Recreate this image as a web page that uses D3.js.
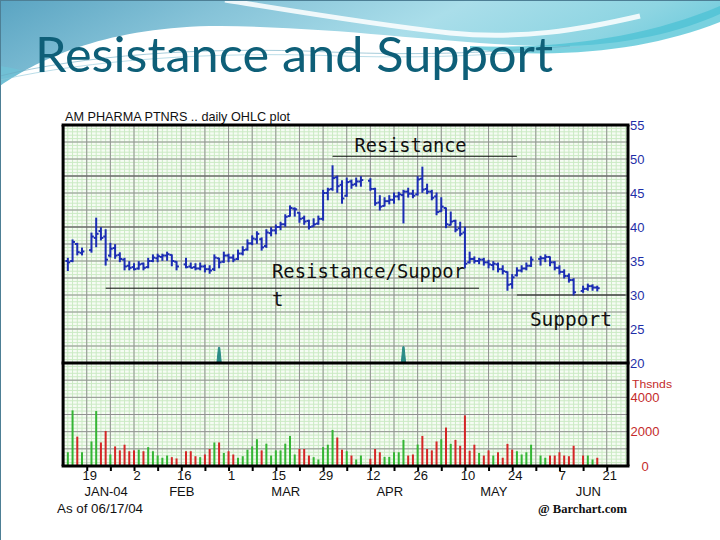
<!DOCTYPE html>
<html><head><meta charset="utf-8">
<script src="https://cdn.jsdelivr.net/npm/d3@7/dist/d3.min.js"></script>
<style>html,body{margin:0;padding:0;background:#fff;overflow:hidden}svg{display:block}</style>
</head><body>
<svg id="chart" width="720" height="540"></svg>
<script>
// ---------------- DATA ----------------
const titleText = "Resistance and Support";
const chartCaption = "AM PHARMA PTNRS .. daily OHLC plot";
const asOfText = "As of 06/17/04";
const sourceText = "@ Barchart.com";

const firstDay = "2004-01-13";
const lastDay = "2004-06-17";
const holidays = ["2004-01-19", "2004-02-16", "2004-04-09", "2004-05-31", "2004-06-11"];

// one value per trading day (weeks separated by line)
const opens = [
  35.0, 35.0, 37.5, 36.2,
  36.6, 38.4, 39.4, 38.6,
  35.8, 36.9, 35.9, 35.2, 34.3,
  34.1, 33.9, 34.6, 34.1, 35.0,
  35.4, 35.6, 35.8, 35.9, 34.9,
  34.5, 34.2, 34.1, 33.9,
  34.2, 33.8, 33.8, 35.4, 34.9,
  35.8, 35.5, 35.3, 36.1, 36.7,
  37.6, 38.2, 38.2, 37.2, 39.1,
  39.5, 40.0, 40.4, 41.6, 42.7,
  42.1, 41.3, 40.9, 40.1, 40.5,
  41.2, 45.0, 45.6, 47.3, 46.2,
  44.6, 46.7, 46.3, 46.7,
  46.8, 45.6, 43.6, 43.1, 43.8,
  44.0, 44.5, 44.7, 45.2, 44.9,
  44.8, 47.1, 45.6, 45.2, 44.5,
  42.3, 42.8, 40.3, 40.9, 39.8,
  39.2, 34.8, 35.3, 35.0, 35.2,
  34.8, 34.4, 34.5, 33.8, 33.4,
  31.6, 32.9, 33.6, 33.9, 34.3,
  35.3, 35.4, 35.6, 34.8,
  34.0, 33.4, 32.8, 32.2,
  30.6, 30.9, 31.3, 31.1
];
const highs = [
  35.4, 38.1, 37.6, 36.9,
  39.1, 41.3, 39.9, 39.6,
  37.6, 37.4, 36.2, 35.4, 34.9,
  34.6, 34.9, 34.7, 35.4, 35.9,
  36.0, 36.0, 36.3, 35.9, 34.9,
  35.4, 34.7, 34.6, 34.7,
  34.4, 34.3, 35.9, 35.4, 36.3,
  36.0, 35.9, 36.6, 37.1, 38.1,
  38.7, 39.3, 38.4, 39.6, 39.9,
  40.3, 40.7, 41.8, 43.1, 42.8,
  42.1, 41.6, 41.0, 41.2, 41.6,
  45.4, 45.7, 49.0, 47.5, 46.8,
  47.2, 46.9, 47.2, 47.4,
  47.1, 45.7, 44.6, 44.3, 44.6,
  45.0, 45.1, 45.4, 45.7, 45.4,
  47.4, 48.8, 46.3, 45.4, 45.0,
  44.3, 42.8, 42.2, 41.0, 40.7,
  40.0, 36.3, 35.6, 35.4, 35.4,
  35.1, 34.9, 34.7, 34.3, 33.4,
  33.0, 34.0, 34.3, 34.7, 35.6,
  35.7, 35.9, 35.6, 34.9,
  34.3, 33.7, 33.1, 32.4,
  31.3, 31.6, 31.5, 31.3
];
const lows = [
  33.6, 34.9, 35.9, 35.9,
  36.3, 37.1, 38.1, 34.4,
  35.6, 35.4, 34.9, 33.7, 33.7,
  33.7, 33.8, 33.7, 34.0, 34.9,
  34.9, 35.1, 35.1, 34.3, 33.7,
  34.0, 34.0, 33.7, 33.7,
  33.4, 33.2, 33.6, 34.0, 34.8,
  34.9, 34.9, 35.2, 35.9, 36.6,
  37.4, 37.6, 36.6, 37.0, 38.7,
  39.0, 39.6, 40.1, 41.6, 41.6,
  40.7, 40.4, 39.7, 40.1, 40.4,
  41.0, 44.0, 45.4, 45.1, 43.5,
  44.5, 45.7, 46.0, 46.0,
  45.4, 43.2, 42.5, 43.1, 43.4,
  43.5, 44.0, 40.6, 44.4, 44.3,
  44.7, 45.1, 44.9, 44.0, 41.8,
  42.3, 39.9, 40.3, 39.3, 38.7,
  34.0, 34.7, 34.7, 34.6, 34.4,
  34.0, 33.7, 33.4, 33.1, 30.7,
  31.0, 32.8, 33.4, 33.7, 34.2,
  34.4, 34.9, 34.3, 33.7,
  33.1, 32.5, 31.9, 30.0,
  30.4, 30.7, 30.7, 30.6
];
const closes = [
  34.8, 37.8, 36.3, 36.4,
  38.6, 39.0, 38.4, 35.2,
  36.8, 35.8, 35.3, 34.2, 34.0,
  33.8, 34.5, 34.0, 35.0, 35.5,
  35.7, 35.8, 36.0, 35.0, 34.2,
  34.1, 34.0, 33.9, 34.2,
  33.8, 33.6, 35.5, 34.8, 35.8,
  35.5, 35.2, 36.1, 36.6, 37.6,
  38.3, 39.0, 37.0, 39.2, 39.5,
  40.0, 40.4, 41.5, 42.8, 42.6,
  41.2, 40.8, 40.0, 40.4, 41.2,
  45.0, 45.5, 47.2, 46.0, 44.2,
  46.6, 46.2, 46.7, 46.9,
  45.6, 43.5, 43.0, 43.8, 44.0,
  44.5, 44.8, 45.2, 44.9, 44.6,
  47.0, 45.5, 45.2, 44.3, 42.2,
  43.0, 40.4, 40.8, 39.6, 39.0,
  34.6, 35.3, 35.0, 35.2, 34.8,
  34.5, 34.6, 33.8, 33.5, 31.5,
  32.6, 33.6, 33.9, 34.3, 35.2,
  35.4, 35.6, 34.8, 34.0,
  33.4, 32.8, 32.2, 30.4,
  30.9, 31.3, 31.1, 31.0
];
// volume in thousands of shares
const volumes = [
  800, 3240, 1710, 800,
  1430, 3200, 1370, 2040,
  670, 1140, 910, 1240, 860,
  910, 950, 860, 1100, 860,
  610, 480, 610, 515, 440,
  860, 860, 570, 515,
  670, 990, 1370, 1370, 760,
  860, 670, 480, 570, 950,
  1140, 1560, 910, 1300, 610,
  910, 910, 1300, 1750, 670,
  990, 990, 610, 515, 380,
  1100, 1240, 2100, 1660, 950,
  860, 610, 380, 610,
  420, 990, 800, 530, 530,
  800, 800, 1520, 610, 670,
  1250, 1750, 990, 910, 1430,
  1560, 2240, 1290, 1520, 1180,
  2950, 890, 1240, 760, 610,
  910, 610, 800, 480, 1290,
  950, 860, 670, 800, 1240,
  610, 480, 610, 610,
  800, 610, 570, 1180,
  610, 610, 380, 480
];
// U = up day (green volume bar), D = down day (red volume bar)
const volumeDirection = [
  "UUDU", "UUDD", "UDDDD", "DUDUU", "UUUDD", "DDDU", "DDUDU", "DDUUU",
  "UUDUU", "UUUUU", "DDDUU", "UUUDD", "UDUU", "DDDUU", "UUUDD", "UDDDD",
  "UDUDD", "DDDUD", "DUDDD", "DUUUU", "UUDD", "DDDD", "DUUD"
].join("");

const priceTicks = [55, 50, 45, 40, 35, 30, 25, 20];
const volumeTicks = [4000, 2000, 0];
const volumeUnit = "Thsnds";

const dayTickDates = ["2004-01-19", "2004-02-02", "2004-02-16", "2004-03-01", "2004-03-15", "2004-03-29",
                      "2004-04-12", "2004-04-26", "2004-05-10", "2004-05-24", "2004-06-07", "2004-06-21"];
const dayTickLabels = ["19", "2", "16", "1", "15", "29", "12", "26", "10", "24", "7", "21"];
const monthLabels = ["JAN-04", "FEB", "MAR", "APR", "MAY", "JUN"];
const monthLabelDates = ["2004-01-23", "2004-02-16", "2004-03-17", "2004-04-16", "2004-05-18", "2004-06-15"];

// hand-drawn level annotations (price level, start date, end date)
const levelNames = ["Resistance", "Resistance/Support", "Support"];
const levelPrices = [50.4, 31.0, 30.0];
const levelStarts = ["2004-03-31", "2004-01-23", "2004-05-25"];
const levelEnds = ["2004-05-25", "2004-05-13", "2004-06-25"];

// small indicator spikes near bottom of price panel
const signalDates = ["2004-02-26", "2004-04-21"];
const signalValues = [22.3, 22.4];

// ---------------- HELPERS ----------------
const baseUTC = Date.UTC(2004, 0, 12); // Monday
function parseUTC(s) { const [y, m, d] = s.split("-").map(Number); return Date.UTC(y, m - 1, d); }
function weekdayIndex(s) {
  const days = Math.round((parseUTC(s) - baseUTC) / 864e5);
  const w = Math.floor(days / 7), r = days - w * 7;
  return w * 5 + Math.min(r, 5);
}
const tradingDays = [];
for (let t = parseUTC(firstDay); t <= parseUTC(lastDay); t += 864e5) {
  const dt = new Date(t), wd = dt.getUTCDay();
  if (wd === 0 || wd === 6) continue;
  const s = dt.toISOString().slice(0, 10);
  if (holidays.includes(s)) continue;
  tradingDays.push(s);
}
const bars = tradingDays.map((d, i) => ({
  idx: weekdayIndex(d), o: opens[i], h: highs[i], l: lows[i], c: closes[i],
  v: volumes[i], up: volumeDirection[i] === "U"
})).filter(b => b.v !== undefined);

// ---------------- DRAW ----------------
const svg = d3.select("#chart");
const L = 63.1, R = 628, T = 125, MID = 363, B = 466;
const x = d3.scaleLinear().domain([0, 119.5]).range([L, R]);
const yP = d3.scaleLinear().domain([20, 55]).range([MID, T]);
const yV = d3.scaleLinear().domain([0, 6000]).range([B, MID]);

// slide header
const defs = svg.append("defs");
const grad = defs.append("linearGradient").attr("id", "hdr").attr("x1", 0).attr("x2", 1).attr("y1", 0).attr("y2", 0.3);
[["0", "#5aa4c2"], ["0.3", "#86c3d8"], ["0.6", "#aadeea"], ["0.85", "#8ed5e2"], ["1", "#6ccadc"]]
  .forEach(([o, c]) => grad.append("stop").attr("offset", o).attr("stop-color", c));
svg.append("rect").attr("width", 720).attr("height", 110).attr("fill", "url(#hdr)");
svg.append("path").attr("d", "M0,66 C30,70 50,80 70,94 L0,100 Z").attr("fill", "#6fc2d6").attr("opacity", 0.8);
svg.append("path")
  .attr("d", "M0,86 C40,58 110,26 220,26 C340,27 440,43 540,46 C620,48 680,32 720,14 L720,540 L0,540 Z")
  .attr("fill", "#fff");
svg.append("path").attr("d", "M470,46 C560,50 650,36 720,6 L720,22 C650,50 560,60 470,49 Z")
  .attr("fill", "#4cc1d4").attr("opacity", 0.75);
svg.append("path").attr("d", "M225,0 C300,12 370,24 450,33 C520,40 580,30 640,16")
  .attr("fill", "none").attr("stroke", "#fff").attr("stroke-width", 5).attr("opacity", 0.85);
svg.append("path").attr("d", "M0,76 C80,56 200,46 330,52 C430,56 500,52 570,46")
  .attr("fill", "none").attr("stroke", "#6aaac2").attr("stroke-width", 1).attr("opacity", 0.6);
svg.append("path").attr("d", "M0,80 C90,60 210,51 340,56 C440,59 510,54 580,47")
  .attr("fill", "none").attr("stroke", "#8cc7d8").attr("stroke-width", 1).attr("opacity", 0.6);
svg.append("path").attr("d", "M0,0.5 H720 M0.5,0 V540").attr("stroke", "#4d7f95").attr("stroke-width", 1);

svg.append("text").attr("x", 35).attr("y", 72).text(titleText)
  .attr("font-family", "Lato, 'Open Sans', sans-serif").attr("font-size", 49).attr("fill", "#0e5f78")
  .attr("textLength", 518).attr("lengthAdjust", "spacingAndGlyphs");

// chart caption
svg.append("text").attr("x", 65).attr("y", 121).text(chartCaption)
  .attr("font-family", "'Liberation Sans', Arial, sans-serif").attr("font-size", 13).attr("fill", "#111")
  .attr("textLength", 225).attr("lengthAdjust", "spacingAndGlyphs");

// plot background + grids
const plot = svg.append("g");
plot.append("rect").attr("x", L).attr("y", T).attr("width", R - L).attr("height", B - T).attr("fill", "#f6fcf4");
const minorColor = "#cbeac4";
d3.range(0, 120).forEach(i => plot.append("line").attr("x1", x(i)).attr("x2", x(i)).attr("y1", T).attr("y2", B)
  .attr("stroke", minorColor).attr("stroke-width", 1));
d3.range(20, 55.01, 0.5).forEach(p => plot.append("line").attr("x1", L).attr("x2", R).attr("y1", yP(p)).attr("y2", yP(p))
  .attr("stroke", minorColor).attr("stroke-width", 1));
d3.range(0, 6000, 200).forEach(v => plot.append("line").attr("x1", L).attr("x2", R).attr("y1", yV(v)).attr("y2", yV(v))
  .attr("stroke", minorColor).attr("stroke-width", 1));
const majorColor = "#929292";
d3.range(5, 120, 5).forEach(i => plot.append("line").attr("x1", x(i)).attr("x2", x(i)).attr("y1", T).attr("y2", B)
  .attr("stroke", majorColor).attr("stroke-width", 1));
d3.range(22.5, 55, 2.5).forEach(p => plot.append("line").attr("x1", L).attr("x2", R).attr("y1", yP(p)).attr("y2", yP(p))
  .attr("stroke", (p === 40 || p === 47.5) ? "#6b6b6b" : majorColor).attr("stroke-width", (p === 40 || p === 47.5) ? 1.6 : 1));
d3.range(1000, 6000, 1000).forEach(v => plot.append("line").attr("x1", L).attr("x2", R).attr("y1", yV(v)).attr("y2", yV(v))
  .attr("stroke", majorColor).attr("stroke-width", 1));

// level annotation lines
levelNames.forEach((n, k) => {
  svg.append("line").attr("x1", x(weekdayIndex(levelStarts[k]))).attr("x2", x(weekdayIndex(levelEnds[k])))
    .attr("y1", yP(levelPrices[k])).attr("y2", yP(levelPrices[k])).attr("stroke", "#111").attr("stroke-width", 1);
});

// signal spikes
const sigColor = "#2a8b86";
signalDates.forEach((d, k) => {
  const cx = x(weekdayIndex(d)), top = yP(signalValues[k]), base = yP(20);
  svg.append("path").attr("d", `M${cx - 2.2},${base} L${cx - 0.6},${top} L${cx + 0.6},${top} L${cx + 2.2},${base} Z`)
    .attr("fill", sigColor).attr("stroke", sigColor).attr("stroke-width", 1);
});

// volume bars
svg.append("g").selectAll("rect").data(bars).join("rect")
  .attr("x", d => x(d.idx) - 1).attr("y", d => yV(d.v)).attr("width", 2).attr("height", d => B - yV(d.v))
  .attr("fill", d => d.up ? "#34b534" : "#d42626");

// OHLC bars
const blue = "#1b2db3";
const ohlc = svg.append("g").attr("stroke", blue).attr("stroke-width", 2).attr("stroke-linecap", "butt");
bars.forEach(d => {
  const cx = x(d.idx);
  ohlc.append("line").attr("x1", cx).attr("x2", cx).attr("y1", yP(d.h) - 0.5).attr("y2", yP(d.l) + 0.5);
  ohlc.append("line").attr("x1", cx - 2.4).attr("x2", cx).attr("y1", yP(d.o)).attr("y2", yP(d.o));
  ohlc.append("line").attr("x1", cx).attr("x2", cx + 2.4).attr("y1", yP(d.c)).attr("y2", yP(d.c));
});

// frame
const frame = svg.append("g").attr("stroke", "#000").attr("stroke-width", 3);
frame.append("line").attr("x1", L - 1.5).attr("x2", R + 1.5).attr("y1", T).attr("y2", T);
frame.append("line").attr("x1", L - 1.5).attr("x2", R + 1.5).attr("y1", MID).attr("y2", MID);
frame.append("line").attr("x1", L - 1.5).attr("x2", R + 1.5).attr("y1", B).attr("y2", B);
frame.append("line").attr("x1", L).attr("x2", L).attr("y1", T).attr("y2", B);
frame.append("line").attr("x1", R).attr("x2", R).attr("y1", T).attr("y2", B);

// annotation texts
const monoFont = "'DejaVu Sans Mono', 'Liberation Mono', monospace";
const ann = svg.append("g").attr("font-family", monoFont).attr("font-size", 19).attr("fill", "#111");
ann.append("text").attr("x", x(weekdayIndex(levelStarts[0])) + 22).attr("y", yP(levelPrices[0]) - 4)
  .text(levelNames[0]).attr("textLength", 112).attr("lengthAdjust", "spacingAndGlyphs");
const rsName = levelNames[1];
ann.append("text").attr("x", 272).attr("y", yP(levelPrices[1]) - 10)
  .text(rsName.slice(0, 17)).attr("textLength", 193).attr("lengthAdjust", "spacingAndGlyphs");
ann.append("text").attr("x", 272).attr("y", yP(levelPrices[1]) + 18).text(rsName.slice(17));
ann.append("text").attr("x", x(weekdayIndex(levelStarts[2])) + 13).attr("y", yP(levelPrices[2]) + 31)
  .text(levelNames[2]).attr("textLength", 82).attr("lengthAdjust", "spacingAndGlyphs");

// right price axis
const axFont = "'Liberation Sans', Arial, sans-serif";
const pAxis = svg.append("g").attr("transform", `translate(${R},0)`)
  .call(d3.axisRight(yP).tickValues(priceTicks).tickSize(0).tickPadding(2).tickFormat(d3.format("d")));
pAxis.select(".domain").remove();
pAxis.selectAll("text").attr("font-family", axFont).attr("font-size", 13).attr("fill", "#1f2fa8");

// right volume axis
const vAxis = svg.append("g").attr("transform", `translate(${R},0)`)
  .call(d3.axisRight(yV).tickValues(volumeTicks).tickSize(0).tickPadding(0).tickFormat(d3.format("d")));
vAxis.select(".domain").remove();
vAxis.selectAll("text").attr("x", 17).attr("text-anchor", "middle")
  .attr("font-family", axFont).attr("font-size", 13).attr("fill", "#c42b2b");
svg.append("text").attr("x", R + 4).attr("y", yV(4000) - 9).text(volumeUnit)
  .attr("font-family", axFont).attr("font-size", 11).attr("fill", "#c42b2b")
  .attr("textLength", 40).attr("lengthAdjust", "spacingAndGlyphs");

// bottom axes
const tickAxis = svg.append("g").attr("transform", `translate(0,${B})`)
  .call(d3.axisBottom(x).tickValues(d3.range(5, 120, 5)).tickSize(5).tickFormat(""));
tickAxis.select(".domain").remove();
tickAxis.selectAll("line").attr("stroke", "#000").attr("stroke-width", 2);

const dayIdx = dayTickDates.map(weekdayIndex);
const dayAxis = svg.append("g").attr("transform", `translate(0,${B})`)
  .call(d3.axisBottom(x).tickValues(dayIdx).tickSize(0).tickPadding(5)
    .tickFormat((d, i) => dayTickLabels[i]));
dayAxis.select(".domain").remove();
dayAxis.selectAll("text").attr("dx", 2.5).attr("font-family", axFont).attr("font-size", 13).attr("fill", "#111");

const monIdx = monthLabelDates.map(weekdayIndex);
const monAxis = svg.append("g").attr("transform", `translate(0,${B})`)
  .call(d3.axisBottom(x).tickValues(monIdx).tickSize(0).tickPadding(21)
    .tickFormat((d, i) => monthLabels[i]));
monAxis.select(".domain").remove();
monAxis.selectAll("text").attr("font-family", axFont).attr("font-size", 13).attr("fill", "#111");

svg.append("text").attr("x", 57).attr("y", 513).text(asOfText)
  .attr("font-family", axFont).attr("font-size", 13).attr("fill", "#111")
  .attr("textLength", 86).attr("lengthAdjust", "spacingAndGlyphs");
svg.append("text").attr("x", 538).attr("y", 513).text(sourceText)
  .attr("font-family", "'Liberation Serif', 'Times New Roman', serif").attr("font-weight", "bold")
  .attr("font-size", 13).attr("fill", "#111")
  .attr("textLength", 89).attr("lengthAdjust", "spacingAndGlyphs");
</script>
</body></html>
